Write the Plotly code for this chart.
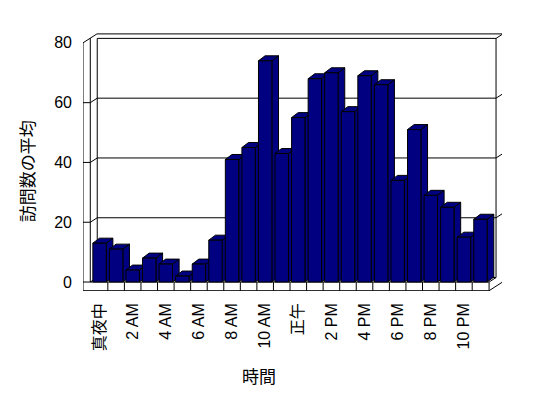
import plotly.graph_objects as go

# ---- data ----
hours = list(range(24))
visits = [13, 11, 4, 8, 6, 2, 6, 14, 41, 45, 74, 43, 55, 68, 70, 57, 69, 66, 34, 51, 29, 25, 15, 21]
tick_pos = [0, 2, 4, 6, 8, 10, 12, 14, 16, 18, 20, 22]
tick_labels = ["真夜中", "2 AM", "4 AM", "6 AM", "8 AM", "10 AM", "正午", "2 PM", "4 PM", "6 PM", "8 PM", "10 PM"]
y_ticks = [0, 20, 40, 60, 80]
x_title = "時間"
y_title = "訪問数の平均"

# ---- style / pseudo-3D geometry (in axis units) ----
NAVY = "#000080"
BAR_W = 0.81
BAR_DX, BAR_DY = 0.40, 1.67
DX, DY = 0.42, 1.5
XO, XI, XR = -1.0, -0.56, 23.52
FB, TOP = -2.9, 80
FONT = "Liberation Sans, Noto Sans CJK JP, sans-serif"

def path(pts, close=False):
    s = "M " + " L ".join(f"{x},{y}" for x, y in pts)
    return s + (" Z" if close else "")

shapes = []
def add_line(pts, close=False, fill=None):
    shapes.append(dict(type="path", path=path(pts, close), xref="x", yref="y",
                       layer="below", line=dict(color="black", width=1),
                       fillcolor=fill if fill else "rgba(0,0,0,0)"))

# outer silhouette of walls + floor
add_line([(XO, FB), (XO, TOP), (XO + 2 * DX, TOP + 2 * DY), (XR + 2 * DX, TOP + 2 * DY),
          (XR + 2 * DX, FB + 2 * DY), (XR, FB)], close=True, fill="white")
# left wall inner front edge
add_line([(XI, 0), (XI, TOP + (XI - XO) * DY / DX)])
# back wall inner face
add_line([(XI + DX, DY), (XI + DX, TOP + DY), (XR + DX, TOP + DY), (XR + DX, DY)])
add_line([(XR + DX, TOP + DY), (XR + 2 * DX, TOP + 2 * DY)])
# floor
add_line([(XO, 0), (XR, 0), (XR, FB)])
add_line([(XR, 0), (XR + DX, DY)])
add_line([(XI, 0), (XI + DX, DY), (XR + DX, DY)])
for k in range(23):
    add_line([(k + 0.5, 0), (k + 0.5, FB)])
# gridlines on walls
for v in y_ticks[1:-1]:
    add_line([(XO, v), (XI, v), (XI + DX, v + DY), (XR + DX, v + DY), (XR + 2 * DX, v + 2 * DY)])

# bar side and top faces (drawn below the bar fronts)
for h, v in zip(hours, visits):
    L, R = h - BAR_W / 2, h + BAR_W / 2
    add_line([(R, 0), (R + BAR_DX, BAR_DY), (R + BAR_DX, v + BAR_DY), (R, v)], close=True, fill=NAVY)
    add_line([(L, v), (R, v), (R + BAR_DX, v + BAR_DY), (L + BAR_DX, v + BAR_DY)], close=True, fill=NAVY)

fig = go.Figure()
fig.add_trace(go.Bar(x=hours, y=visits, width=BAR_W,
                     marker=dict(color=NAVY, line=dict(color="black", width=1)),
                     hoverinfo="skip", showlegend=False))

W, H = 548, 398
ml, mr, mt, mb = 83.4, 45.9, 33.2, 106.7
fig.update_layout(
    width=W, height=H, template="none",
    margin=dict(l=ml, r=mr, t=mt, b=mb, pad=0),
    paper_bgcolor="white", plot_bgcolor="white",
    shapes=shapes,
    font=dict(family=FONT, size=16, color="black"),
    xaxis=dict(range=[-1.0, 24.3], tickmode="array", tickvals=tick_pos, ticktext=tick_labels,
               tickangle=-90, showgrid=False, zeroline=False, showline=False, ticks="",
               ticklabelstandoff=8, tickfont=dict(family=FONT, size=16, color="black"),
               automargin=False),
    yaxis=dict(range=[-3.0, 83.3], tickmode="array", tickvals=y_ticks,
               showgrid=False, zeroline=False, showline=False, ticks="",
               ticklabelstandoff=10, tickfont=dict(family=FONT, size=16, color="black"),
               automargin=False),
    annotations=[
        dict(text=y_title, xref="paper", yref="paper", x=-0.1347, y=0.462, textangle=-90,
             showarrow=False, font=dict(family="Noto Sans CJK JP", size=17, color="black"),
             xanchor="center", yanchor="middle"),
        dict(text=x_title, xref="paper", yref="paper", x=0.4194, y=-0.326,
             showarrow=False, font=dict(family="Noto Sans CJK JP", size=17, color="black"),
             xanchor="center", yanchor="middle"),
    ],
)

fig.write_html("out.html")
